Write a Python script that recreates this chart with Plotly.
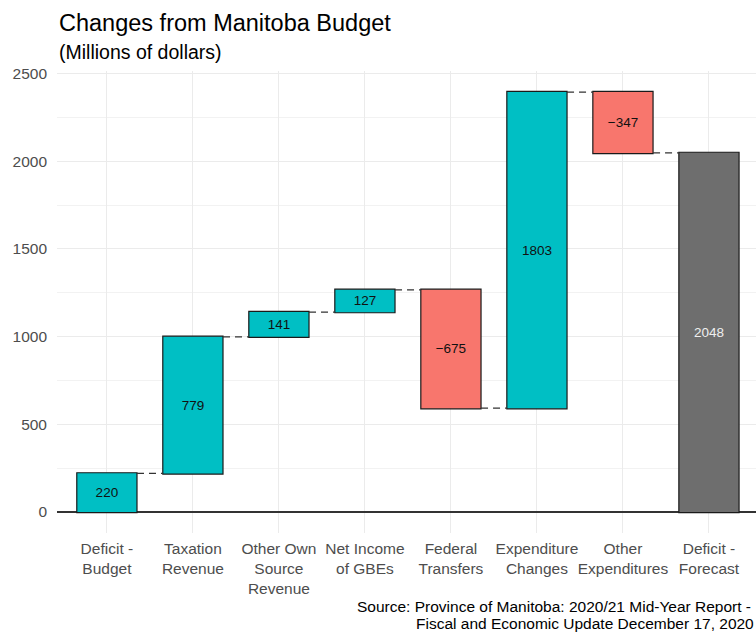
import plotly.graph_objects as go

categories = ["Deficit -<br>Budget", "Taxation<br>Revenue", "Other Own<br>Source<br>Revenue",
              "Net Income<br>of GBEs", "Federal<br>Transfers", "Expenditure<br>Changes",
              "Other<br>Expenditures", "Deficit -<br>Forecast"]
values = [220, 779, 141, 127, -675, 1803, -347, 2048]
measures = ["relative"] * 7 + ["total"]
label_colors = ["#111111"] * 7 + ["#EEEEEE"]

title = "Changes from Manitoba Budget"
subtitle = "(Millions of dollars)"
caption1 = "Source: Province of Manitoba: 2020/21 Mid-Year Report -"
caption2 = "Fiscal and Economic Update December 17, 2020"

FONT = "Liberation Sans, Arial, sans-serif"
W, H = 756, 633
L, R, T, B = 57, 0, 71, 100
PH = H - T - B

def py(p):
    return (H - B - p) / PH

def px(p):
    return (p - L) / (W - L - R)

labels = [str(v).replace("-", "\u2212") for v in values]

fig = go.Figure(go.Waterfall(
    x=list(range(len(categories))),
    y=values,
    measure=measures,
    text=labels,
    textposition="inside",
    insidetextanchor="middle",
    textangle=0,
    constraintext="none",
    textfont=dict(family=FONT, size=13.5, color=label_colors),
    increasing=dict(marker=dict(color="#00BFC4", line=dict(color="#1a1a1a", width=1.2))),
    decreasing=dict(marker=dict(color="#F8766D", line=dict(color="#1a1a1a", width=1.2))),
    totals=dict(marker=dict(color="#6E6E6E", line=dict(color="#1a1a1a", width=1.2))),
    connector=dict(mode="between", line=dict(color="#333333", width=1.3, dash="7px,5px")),
    width=0.7,
    hoverinfo="skip",
))

fig.update_layout(
    width=W, height=H,
    margin=dict(l=L, r=R, t=T, b=B, autoexpand=False),
    paper_bgcolor="white", plot_bgcolor="white",
    showlegend=False,
    font=dict(family=FONT, color="#4D4D4D"),
    xaxis=dict(
        range=[-0.58, 7.547],
        tickmode="array",
        tickvals=list(range(len(categories))),
        ticktext=categories,
        tickangle=0,
        tickfont=dict(size=15.5, color="#4D4D4D"),
        showgrid=True, gridcolor="#EBEBEB", gridwidth=1,
        zeroline=False, showline=False,
        ticks="", ticklabelstandoff=4,
        automargin=False,
        fixedrange=True,
    ),
    yaxis=dict(
        range=[-120, 2515],
        tickvals=[0, 500, 1000, 1500, 2000, 2500],
        tickfont=dict(size=15.5, color="#4D4D4D"),
        showgrid=True, gridcolor="#EBEBEB", gridwidth=1,
        minor=dict(dtick=250, tick0=0, showgrid=True, gridcolor="#F2F2F2", gridwidth=0.6),
        zeroline=True, zerolinecolor="#333333", zerolinewidth=1.5,
        showline=False, ticks="", ticklabelstandoff=9,
        automargin=False,
        fixedrange=True,
    ),
    annotations=[
        dict(text=title, xref="paper", yref="paper", x=0, y=py(23), xanchor="left", yanchor="middle",
             showarrow=False, font=dict(family=FONT, size=23.5, color="#000000")),
        dict(text=subtitle, xref="paper", yref="paper", x=0, y=py(52), xanchor="left", yanchor="middle",
             showarrow=False, font=dict(family=FONT, size=19.5, color="#000000")),
        dict(text=caption1, xref="paper", yref="paper", x=px(753), y=py(606), xanchor="right", yanchor="middle",
             showarrow=False, font=dict(family=FONT, size=15.5, color="#000000")),
        dict(text=caption2, xref="paper", yref="paper", x=px(756), y=py(623), xanchor="right", yanchor="middle",
             showarrow=False, font=dict(family=FONT, size=15.5, color="#000000")),
    ],
)

fig.write_html("out.html", config={"displayModeBar": False},
               post_script="document.body.style.margin='0';document.body.style.overflow='hidden';")
